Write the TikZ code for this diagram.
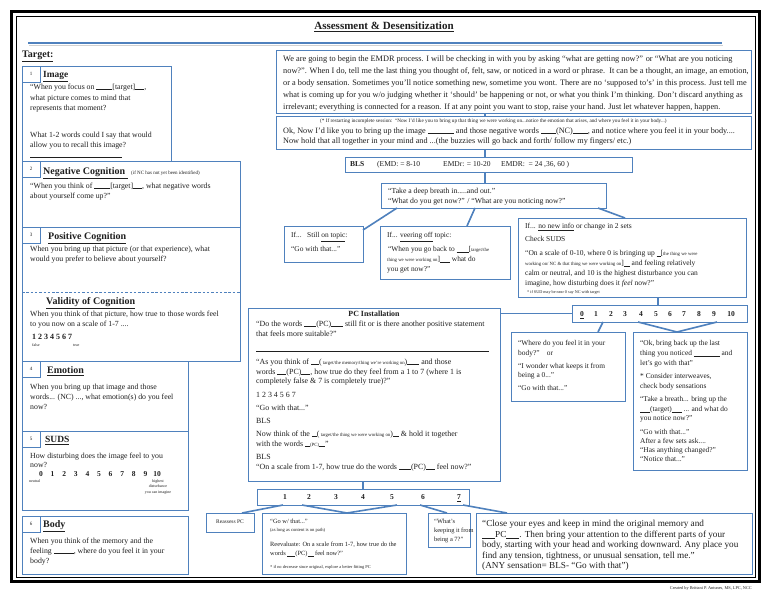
\documentclass[tikz,border=0pt]{standalone}
\usepackage{fontspec}
\setmainfont{Liberation Serif}
\usetikzlibrary{calc}
\definecolor{bb}{HTML}{4F81BD}
\definecolor{tx}{HTML}{1F1F1F}
\newcounter{lnc}
\newcommand\fsz[1]{\fontsize{#1}{#1}\selectfont}
\newcommand\Bk[1]{\rule[-0.6pt]{#1pt}{0.35pt}}
\newcommand\Txt[5][]{\stepcounter{lnc}\node[txt,font=\fsz{#2},#1] (t\thelnc) at (#3,{#4+0.26*#2}) {#5};}
\newcommand\Bx[5]{\node[box,minimum width={(#4-#2)*1pt},minimum height={(#5-#3)*1pt}] (#1) at (#2,#3) {};}
\begin{document}
\begin{tikzpicture}[x=1pt,y=-1pt,
 box/.style={draw=bb,line width=0.9pt,anchor=north west,inner sep=0pt,outer sep=0pt},
 link/.style={draw=bb,line width=1.6pt},
 txt/.style={anchor=base west,inner sep=0pt,text=tx}]
\useasboundingbox[fill=white] (0,0) rectangle (768,594);
% frame
\draw[line width=3pt] (11.5,11.5) rectangle (759.5,581);
\draw[line width=0.8pt] (16,16) rectangle (755,577);
% header
\node[font=\bfseries\fsz{11},text=tx,inner sep=0pt] (title) at (384,27) {\underline{Assessment \& Desensitization}};
\draw[black!18,line width=1.4pt] (29,45.5) -- (723,45.5);
\draw[bb,line width=2pt] (28,43) -- (722,43);
\Txt{10}{22}{55}{\textbf{\underline{Target:}}}
% left boxes
\Bx{b1}{22}{66}{171}{161}
\Bx{b2}{22}{161}{240}{227}
\Bx{b3}{22}{227}{240}{361}
\Bx{b4}{22}{361}{188}{431}
\Bx{b5}{22}{431}{188}{510}
\Bx{b6}{22}{516}{188}{574}
\Bx{k1}{22}{66}{40}{82}
\Bx{k2}{22}{161}{40}{177}
\Bx{k3}{22}{227}{40}{243}
\Bx{k4}{22}{361}{40}{377}
\Bx{k5}{22}{431}{40}{447}
\Bx{k6}{22}{516}{40}{532}
\draw[bb,line width=0.8pt,dash pattern=on 2.5pt off 1.8pt] ($(b3.north west)+(0,65)$) -- ($(b3.north east)+(0,65)$);
% right boxes
\Bx{A}{276}{50}{751}{113}
\Bx{B}{276}{116}{751}{149}
\Bx{BLS}{345}{157}{632}{172}
\Bx{C}{381}{183}{606}{208}
\Bx{D}{284}{226}{363}{262}
\Bx{E}{380}{226}{510}{279}
\Bx{F}{518}{218}{746}{297}
\Bx{G}{248}{308}{500}{481}
\Bx{H}{572}{305}{747}{322}
\Bx{I}{511}{332}{625}{401}
\Bx{J}{633}{332}{747}{470}
\Bx{K}{257}{489}{469}{505}
\Bx{L}{206}{513}{254}{532}
\Bx{M}{262}{513}{406}{574}
\Bx{N}{428}{513}{470}{547}
\Bx{O}{476}{513}{752}{574}
% connectors
\coordinate (x485) at (485,0);
\coordinate (x658) at (658,0);
\coordinate (x363) at (363,0);
\draw[link] (A.south -| x485) -- (B.north -| x485);
\draw[link] (B.south -| x485) -- (BLS.north -| x485);
\draw[link] (BLS.south -| x485) -- (C.north -| x485);
\draw[link] ($(C.south west)+(16,0)$) -- ($(D.north east)+(0,4)$);
\draw[link] ($(C.south west)+(94,0)$) -- ($(E.north west)+(87,0)$);
\draw[link] ($(C.south east)+(-8,0)$) -- ($(F.north west)+(107,0)$);
\draw[link] (F.south -| x658) -- (H.north -| x658);
\draw[link] (H.west -| G.east) -- (H.west);
\draw[link] ($(H.south west)+(31,0)$) -- ($(I.north west)+(87,0)$);
\draw[link] ($(H.south west)+(66,0)$) -- ($(J.north west)+(44,0)$) -- ($(H.south west)+(145,0)$);
\draw[link] (G.south -| x363) -- (K.north -| x363);
\draw[link] ($(K.south west)+(26,0)$) -- ($(L.north east)+(-12,0)$);
\draw[link] ($(K.south west)+(45,0)$) -- ($(M.north west)+(85,0)$) -- ($(K.south west)+(140,0)$);
\draw[link] ($(K.south west)+(163,0)$) -- ($(N.north west)+(19,0)$);
\draw[link] ($(K.south west)+(206,0)$) -- ($(O.north west)+(31,0)$);
% tab numbers
\Txt[anchor=base]{5}{31}{74}{1}
\Txt[anchor=base]{5}{31}{169}{2}
\Txt[anchor=base]{5}{31}{235}{3}
\Txt[anchor=base]{5}{31}{369}{4}
\Txt[anchor=base]{5}{31}{439}{5}
\Txt[anchor=base]{5}{31}{524}{6}
% box 1
\Txt{9.4}{43}{75}{\textbf{\underline{Image}}}
\Txt{7.8}{30}{87}{“When you focus on \Bk{16}[target]\Bk{9},}
\Txt{7.8}{30}{98}{what picture comes to mind that}
\Txt{7.8}{30}{108}{represents that moment?}
\Txt{7.8}{30}{135}{What 1-2 words could I say that would}
\Txt{7.8}{30}{145}{allow you to recall this image?}
\Txt{7.8}{30}{155}{\Bk{92}}
% box 2
\Txt{10}{43}{172}{\textbf{\underline{Negative Cognition\ }}}
\Txt{5}{131}{173}{(if NC has not yet been identified)}
\Txt{7.8}{30}{186}{“When you think of \Bk{16}[target]\Bk{9}, what negative words}
\Txt{7.8}{30}{196}{about yourself come up?”}
% box 3
\Txt{10}{48}{237}{\textbf{\underline{Positive Cognition}}}
\Txt{7.8}{30}{249}{When you bring up that picture (or that experience), what}
\Txt{7.8}{30}{259}{would you prefer to believe about yourself?}
\Txt{10}{46}{302}{\textbf{\underline{Validity of Cognition}}}
\Txt{7.8}{30}{314}{When you think of that picture, how true to those words feel}
\Txt{7.8}{30}{324}{to you now on a scale of 1-7 ....}
\Txt{8}{32}{337}{\textbf{1 2 3 4 5 6 7}}
\Txt{4}{32}{345}{false}
\Txt{4}{73}{345}{true}
% box 4
\Txt{10}{47}{371}{\textbf{\underline{Emotion}}}
\Txt{7.8}{30}{387}{When you bring up that image and those}
\Txt{7.8}{30}{397}{words... (NC) ..., what emotion(s) do you feel}
\Txt{7.8}{30}{407}{now?}
% box 5
\Txt{9.5}{45}{440}{\textbf{\underline{SUDS}}}
\Txt{7.8}{30}{456}{How disturbing does the image feel to you}
\Txt{7.8}{30}{465}{now?}
\foreach \i in {0,...,10} {\node[txt,anchor=base,font=\bfseries\fsz{7.5}] (sud\i) at ({41+\i*11.6},476) {\i};}
\Txt{4}{29}{481}{neutral}
\Txt[anchor=base]{4}{158}{481}{highest}
\Txt[anchor=base]{4}{158}{486.5}{disturbance}
\Txt[anchor=base]{4}{158}{492}{you can imagine}
% box 6
\Txt{10}{43}{525}{\textbf{\underline{Body}}}
\Txt{7.8}{30}{541}{When you think of the memory and the}
\Txt{7.8}{30}{551}{feeling \Bk{20}, where do you feel it in your}
\Txt{7.8}{30}{561}{body?}
% box A
\Txt{8.3}{283}{59}{We are going to begin the EMDR process. I will be checking in with you by asking “what are getting now?” or “What are you noticing}
\Txt{8.3}{283}{71}{now?”. When I do, tell me the last thing you thought of, felt, saw, or noticed in a word or phrase.\ \ It can be a thought, an image, an emotion,}
\Txt{8.3}{283}{83}{or a body sensation. Sometimes you’ll notice something new, sometime you wont. There are no ‘supposed to’s’ in this process. Just tell me}
\Txt{8.3}{283}{95}{what is coming up for you w/o judging whether it ‘should’ be happening or not, or what you think I’m thinking. Don’t discard anything as}
\Txt{8.3}{283}{107}{irrelevant; everything is connected for a reason. If at any point you want to stop, raise your hand. Just let whatever happen, happen.}
% box B
\Txt{5.2}{320}{121}{(* If restarting incomplete session:\ \ “Now I’d like you to bring up that thing we were working on...notice the emotion that arises, and where you feel it in your body...)}
\Txt{8.2}{283}{131}{Ok, Now I’d like you to bring up the image \Bk{26} and those negative words \Bk{15}(NC)\Bk{15}, and notice where you feel it in your body....}
\Txt{8.2}{283}{141}{Now hold that all together in your mind and ...(the buzzies will go back and forth/ follow my fingers/ etc.)}
% BLS
\Txt{7.5}{350}{165}{\textbf{BLS}}
\Txt{7.5}{377}{165}{(EMD: = 8-10}
\Txt{7.5}{443}{165}{EMDr: = 10-20}
\Txt{7.5}{501}{165}{EMDR:\ \ = 24 ,36, 60 )}
% C
\Txt{7.7}{388}{191}{“Take a deep breath in.....and out.”}
\Txt{7.7}{388}{201}{“What do you get now?” / “What are you noticing now?”}
% D
\Txt{7.4}{291}{236}{If...\ \ \ Still \underline{on topic}:}
\Txt{7.4}{291}{250}{“Go with that...”}
% E
\Txt{7.4}{387}{236}{If... \underline{veering off} topic:}
\Txt{7.4}{388}{250}{“When you go back to \Bk{12}[{\fsz{4.8}target/the}}
\Txt{7.4}{387}{260}{{\fsz{4.8}thing we were working on}]\Bk{10} what do}
\Txt{7.4}{387}{270}{you get now?”}
% F
\Txt{7.5}{525}{227}{If... \underline{no new info} or change in 2 sets}
\Txt{7.5}{525}{240}{Check SUDS}
\Txt{7.5}{525}{254}{“On a scale of 0-10, where 0 is bringing up \Bk{4}[{\fsz{4.8}the thing we were}}
\Txt{7.5}{525}{264}{{\fsz{4.8}working on/ NC \& that thing we were working on}]\Bk{6} and feeling relatively}
\Txt{7.5}{525}{274}{calm or neutral, and 10 is the highest disturbance you can}
\Txt{7.5}{525}{284}{imagine, how disturbing does it \textit{feel} now?”}
\Txt{4.2}{527}{292}{* if SUD may be near 0 say NC with target}
% G
\Txt[anchor=base]{7.9}{374}{314}{\textbf{PC Installation}}
\Txt{7.9}{256}{324}{“Do the words \Bk{12}(PC)\Bk{12} still fit or is there another positive statement}
\Txt{7.9}{256}{334}{that feels more suitable?”}
\Txt{7.9}{256}{349}{\Bk{233}}
\Txt{7.9}{256}{362}{“As you think of \Bk{8}({\fsz{4.8} target/the memory/thing we’re working on})\Bk{12} and those}
\Txt{7.9}{256}{372}{words \Bk{9}(PC)\Bk{9}, how true do they feel from a 1 to 7 (where 1 is}
\Txt{7.9}{256}{381}{completely false \& 7 is completely true)?”}
\Txt{7.9}{256}{395}{1 2 3 4 5 6 7}
\Txt{7.9}{256}{408}{“Go with that...”}
\Txt{7.9}{256}{421}{BLS}
\Txt{7.9}{256}{434}{Now think of the \Bk{5}({\fsz{4.8} target/the thing we were working on})\Bk{6} \& hold it together}
\Txt{7.9}{256}{444}{with the words \Bk{5}{\fsz{4.8}(PC)}\Bk{6}”}
\Txt{7.9}{256}{457}{BLS}
\Txt{7.9}{256}{467}{“On a scale from 1-7, how true do the words \Bk{12}(PC)\Bk{9} feel now?”}
% H scale
\foreach \i/\xx in {1/596,2/611,3/625,4/641,5/656,6/670,7/684,8/699,9/714,10/731} {\node[txt,anchor=base,font=\bfseries\fsz{7.5}] (h\i) at (\xx,316.5) {\i};}
\node[txt,anchor=base,font=\bfseries\fsz{7.5}] (h0) at (582,316.5) {\underline{0}};
% I
\Txt{7.4}{518}{344}{“Where do you feel it in your}
\Txt{7.4}{518}{354}{body?”\ \ \ \ or}
\Txt{7.4}{518}{367}{“I wonder what keeps it from}
\Txt{7.4}{518}{376}{being a 0...”}
\Txt{7.4}{518}{389}{“Go with that...”}
% J
\Txt{7.4}{640}{344}{“Ok, bring back up the last}
\Txt{7.4}{640}{354}{thing you noticed \Bk{26} and}
\Txt{7.4}{640}{364}{let’s go with that”}
\Txt{7.4}{640}{377}{* Consider interweaves,}
\Txt{7.4}{640}{387}{check body sensations}
\Txt{7.4}{640}{400}{“Take a breath... bring up the}
\Txt{7.4}{640}{410}{\Bk{10}(target)\Bk{10} ... and what do}
\Txt{7.4}{640}{419}{you notice now?”}
\Txt{7.4}{640}{433}{“Go with that...”}
\Txt{7.4}{640}{442}{After a few sets ask....}
\Txt{7.4}{640}{451}{“Has anything changed?”}
\Txt{7.4}{640}{460}{“Notice that...”}
% K scale
\foreach \i/\xx in {1/285,2/309,3/336,4/363,5/392,6/423} {\node[txt,anchor=base,font=\bfseries\fsz{7.5}] (n\i) at (\xx,499.5) {\i};}
\node[txt,anchor=base,font=\bfseries\fsz{7.5}] (n7) at (459,499.5) {\underline{7}};
% L
\Txt[anchor=base]{5.5}{230}{522}{Reassess PC}
% M
\Txt{6.4}{270}{522}{“Go w/ that...”}
\Txt{4.6}{270}{530}{(as long as content is on path)}
\Txt{6.4}{270}{545}{Reevaluate: On a scale from 1-7, how true do the}
\Txt{6.4}{270}{554}{words \Bk{8}(PC)\Bk{6} feel now?”}
\Txt{4.4}{270}{567}{* if no decrease since original, explore a better fitting PC}
% N
\Txt{6.4}{434}{522}{“What’s}
\Txt{6.4}{434}{531}{keeping it from}
\Txt{6.4}{434}{540}{being a 7?”}
% O
\Txt{9.2}{482}{524}{“Close your eyes and keep in mind the original memory and}
\Txt{9.2}{482}{535}{\Bk{13}PC\Bk{13}. Then bring your attention to the different parts of your}
\Txt{9.2}{482}{545.5}{body, starting with your head and working downward. Any place you}
\Txt{9.2}{482}{556}{find any tension, tightness, or unusual sensation, tell me.”}
\Txt{9.2}{482}{566}{(ANY sensation= BLS- “Go with that”)}
% credit
\Txt[anchor=base east]{4.3}{752}{588}{Created by Brittani P. Antunes, MS, LPC, NCC}
\end{tikzpicture}
\end{document}
